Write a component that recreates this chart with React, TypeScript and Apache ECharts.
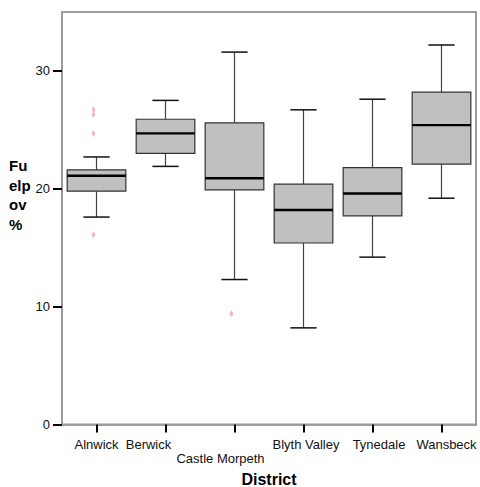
import React, { useEffect, useRef } from "react";
import * as echarts from "echarts";

const categories = ["Alnwick", "Berwick", "Castle Morpeth", "Blyth Valley", "Tynedale", "Wansbeck"];
const whiskerLow = [17.6, 21.9, 12.3, 8.2, 14.2, 19.2];
const quartile1 = [19.8, 23.0, 19.9, 15.4, 17.7, 22.1];
const medians = [21.1, 24.7, 20.9, 18.2, 19.6, 25.4];
const quartile3 = [21.6, 25.9, 25.6, 20.4, 21.8, 28.2];
const whiskerHigh = [22.7, 27.5, 31.6, 26.7, 27.6, 32.2];
const outlierCategory = [0, 0, 0, 0, 2];
const outlierValues = [26.7, 26.3, 24.7, 16.1, 9.4];
const yTicks = [0, 10, 20, 30];

const FONT = "'Liberation Sans', Arial, sans-serif";

export default function App() {
  const ref = useRef<HTMLDivElement>(null);

  useEffect(() => {
    if (!ref.current) return;
    const chart = echarts.init(ref.current, null, { renderer: "svg" });

    const boxData = categories.map((_, i) => [
      i,
      whiskerLow[i],
      quartile1[i],
      medians[i],
      quartile3[i],
      whiskerHigh[i],
    ]);
    const outlierData = outlierValues.map((v, i) => [outlierCategory[i], v]);

    const labelRich: any = {
      l0: { padding: [0, 0, 0, 0] },
      l1: { padding: [0, 34, 0, 0] },
      l2: { padding: [14, 28, 0, 0] },
      l3: { padding: [0, 0, 0, 5] },
      l4: { padding: [0, 0, 0, 13] },
      l5: { padding: [0, 0, 0, 10] },
    };
    Object.keys(labelRich).forEach((k) => {
      labelRich[k].fontSize = 13;
      labelRich[k].fontFamily = FONT;
      labelRich[k].color = "#111";
    });

    const option: any = {
      animation: false,
      backgroundColor: "#fff",
      grid: {
        left: 62,
        top: 12,
        right: 4,
        bottom: 62.5,
        outerBoundsMode: "none",
        containLabel: false,
        show: true,
        borderColor: "#9c9c9c",
        borderWidth: 2,
      },
      graphic: [
        {
          type: "text",
          left: 9,
          top: 156,
          style: {
            text: "Fu\nelp\nov\n%",
            font: `bold 15px ${FONT}`,
            lineHeight: 19.5,
            fill: "#000",
          },
        },
      ],
      xAxis: {
        type: "category",
        data: categories,
        boundaryGap: true,
        name: "District",
        nameLocation: "middle",
        nameGap: 47,
        nameTextStyle: { fontSize: 16, fontWeight: "bold", fontFamily: FONT, color: "#000" },
        axisLine: { show: true, lineStyle: { color: "#9c9c9c", width: 2 } },
        axisTick: { show: true, alignWithLabel: true, length: 8, lineStyle: { color: "#000", width: 2 } },
        axisLabel: {
          interval: 0,
          margin: 13,
          fontSize: 13,
          fontFamily: FONT,
          color: "#111",
          formatter: (value: string, index: number) => `{l${index}|${value}}`,
          rich: labelRich,
        },
        splitLine: { show: false },
      },
      yAxis: {
        type: "value",
        min: 0,
        max: 35,
        interval: 10,
        axisLine: { show: true, lineStyle: { color: "#9c9c9c", width: 2 } },
        axisTick: { show: true, length: 9, customValues: yTicks, lineStyle: { color: "#000", width: 2 } },
        axisLabel: { margin: 12, fontSize: 13, fontFamily: FONT, color: "#111", customValues: yTicks },
        splitLine: { show: false },
      },
      series: [
        {
          type: "custom",
          data: boxData,
          encode: { x: 0, y: [1, 2, 3, 4, 5] },
          renderItem: (params: any, api: any) => {
            const x = api.value(0);
            const low = api.coord([x, api.value(1)]);
            const q1 = api.coord([x, api.value(2)]);
            const med = api.coord([x, api.value(3)]);
            const q3 = api.coord([x, api.value(4)]);
            const high = api.coord([x, api.value(5)]);
            const band = api.size([1, 0])[0];
            const bw = band * 0.85;
            const cw = band * 0.38;
            const cx = low[0];
            const whisk = { stroke: "#444", lineWidth: 1.2 };
            const cap = { stroke: "#111", lineWidth: 1.5 };
            return {
              type: "group",
              children: [
                { type: "line", shape: { x1: cx, y1: high[1], x2: cx, y2: q3[1] }, style: whisk },
                { type: "line", shape: { x1: cx, y1: q1[1], x2: cx, y2: low[1] }, style: whisk },
                { type: "line", shape: { x1: cx - cw / 2, y1: high[1], x2: cx + cw / 2, y2: high[1] }, style: cap },
                { type: "line", shape: { x1: cx - cw / 2, y1: low[1], x2: cx + cw / 2, y2: low[1] }, style: cap },
                {
                  type: "rect",
                  shape: { x: cx - bw / 2, y: q3[1], width: bw, height: q1[1] - q3[1] },
                  style: { fill: "#c0c0c0", stroke: "#333", lineWidth: 1.2 },
                },
                {
                  type: "line",
                  shape: { x1: cx - bw / 2, y1: med[1], x2: cx + bw / 2, y2: med[1] },
                  style: { stroke: "#000", lineWidth: 2.4 },
                },
              ],
            };
          },
        },
        {
          type: "scatter",
          data: outlierData,
          symbol: "diamond",
          symbolSize: [4, 7],
          symbolOffset: [-3, 0],
          itemStyle: { color: "#f6a3aa" },
        },
      ],
    };

    chart.setOption(option);
    return () => chart.dispose();
  }, []);

  return (
    <div
      ref={ref}
      style={{ position: "fixed", left: 0, top: 0, width: 480, height: 487, background: "#fff" }}
    />
  );
}
